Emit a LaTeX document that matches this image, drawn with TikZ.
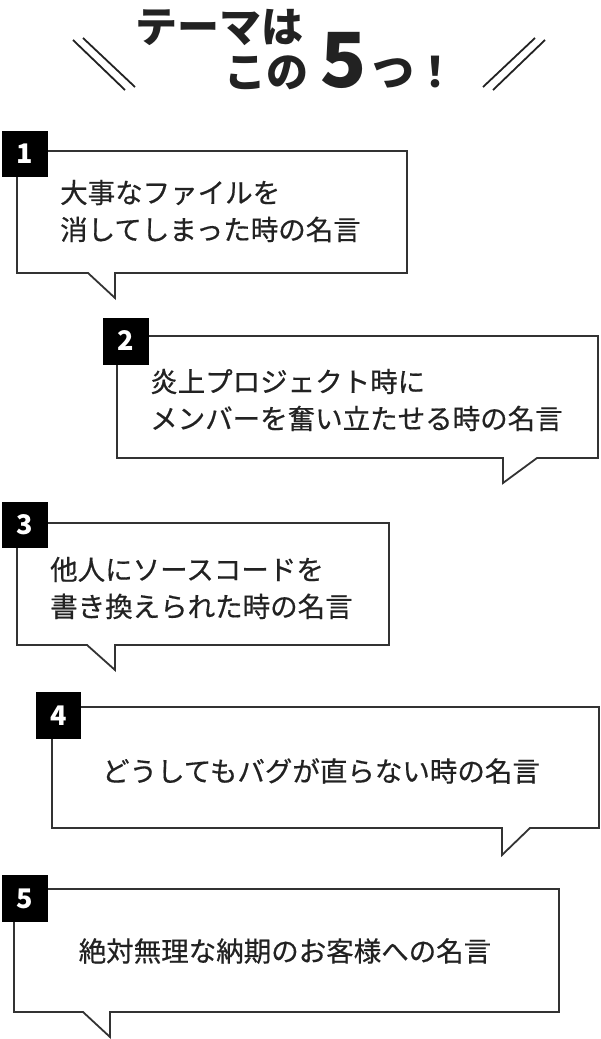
\documentclass[tikz,border=0pt]{standalone}
\usepackage{fontspec}
\newfontfamily\jpfont{Noto Sans CJK JP}
\newfontfamily\jpmed[FakeBold=0.5]{Noto Sans CJK JP}
\usepackage{tikz}
\definecolor{ink}{HTML}{222222}
\definecolor{frame}{HTML}{333333}

\begin{document}
\begin{tikzpicture}[x=1pt, y=-1pt,
    bubble/.style={draw=frame, line width=1.8pt, fill=white, line join=miter},
    numbox/.style={fill=black, draw=none},
    numtxt/.style={text=white, inner sep=0, font=\jpfont\bfseries\fontsize{27}{27}\selectfont},
    quote/.style={text=ink, inner sep=0, align=left, font=\jpmed\fontsize{27.5}{37}\selectfont},
    title/.style={text=ink, inner sep=0, anchor=base west, font=\jpfont\bfseries\fontsize{42}{42}\selectfont},
    slash/.style={draw=ink, line width=1.8pt}]
                \useasboundingbox (0,0) rectangle (601,1039);

                % Title
                \node[title] (ttlA) at (135, 42) {テーマは};
                \node[title] (ttlB) at (224, 87) {この};
                \node[title, font=\jpfont\bfseries\fontsize{76}{76}\selectfont] (ttlFive) at (320, 87) {5};
                \node[title] (ttlC) at (372, 87) {つ！};
                \draw[slash] (73,40) -- (125,90);
                \draw[slash] (83,38) -- (135,87);
                \draw[slash] (483,87) -- (535,38);
                \draw[slash] (493,90) -- (545,40);

                % Box 1
                \draw[bubble] (17,151) -- (407,151) -- (407,273) -- (115,273) -- (115,298) -- (88,273) -- (17,273) -- cycle;
                \fill[numbox] (2,131) rectangle (48,177);
                \node[numtxt] (numA) at (25,154) {1};
                \node[quote, anchor=west] (quoteA) at (60,211) {大事なファイルを\\消してしまった時の名言};

                % Box 2
                \draw[bubble] (117,336) -- (598,336) -- (598,458) -- (537,458) -- (503,483) -- (503,458) -- (117,458) -- cycle;
                \fill[numbox] (103,318) rectangle (149,365);
                \node[numtxt] (numB) at (126,341) {2};
                \node[quote, anchor=west] (quoteB) at (150,400) {炎上プロジェクト時に\\メンバーを奮い立たせる時の名言};

                % Box 3
                \draw[bubble] (17,523) -- (389,523) -- (389,645) -- (115,645) -- (115,670) -- (87,645) -- (17,645) -- cycle;
                \fill[numbox] (2,502) rectangle (48,548);
                \node[numtxt] (numC) at (25,525) {3};
                \node[quote, anchor=west] (quoteC) at (50,588) {他人にソースコードを\\書き換えられた時の名言};

                % Box 4
                \draw[bubble] (52,707) -- (599,707) -- (599,828) -- (530,828) -- (502,855) -- (502,828) -- (52,828) -- cycle;
                \fill[numbox] (36,692) rectangle (81,739);
                \node[numtxt] (numD) at (58.5,715.5) {4};
                \node[quote] (quoteD) at (321,771) {どうしてもバグが直らない時の名言};

                % Box 5
                \draw[bubble] (14,889) -- (559,889) -- (559,1012) -- (110,1012) -- (110,1037) -- (83,1012) -- (14,1012) -- cycle;
                \fill[numbox] (2,875) rectangle (48,922);
                \node[numtxt] (numE) at (25,898.5) {5};
                \node[quote] (quoteE) at (285,951) {絶対無理な納期のお客様への名言};
\end{tikzpicture}
\end{document}
